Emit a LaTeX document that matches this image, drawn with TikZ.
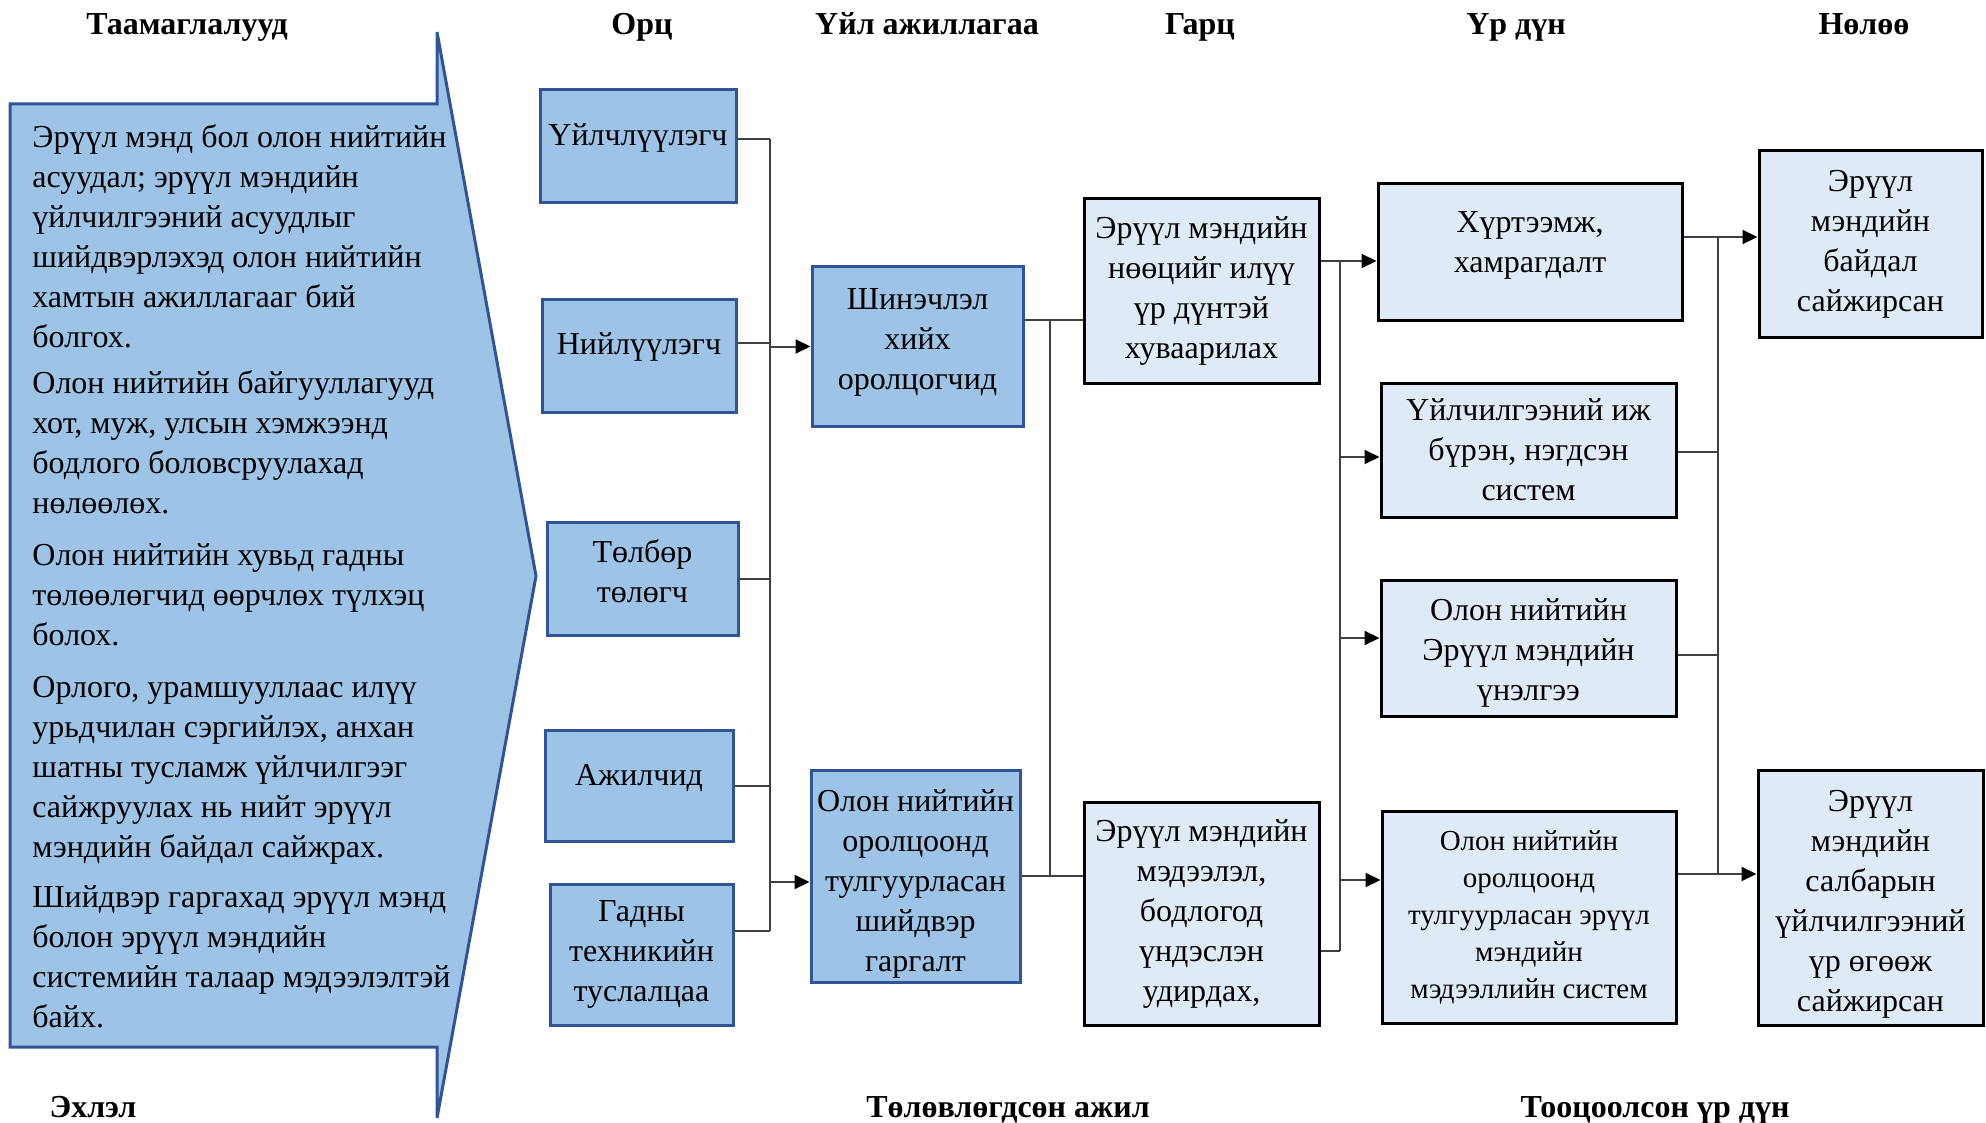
\documentclass[tikz,border=0pt]{standalone}
\usepackage{fontspec}
\setmainfont{Liberation Serif}
\usetikzlibrary{positioning,arrows.meta,calc}

\definecolor{boxblue}{HTML}{9DC3E6}
\definecolor{paleblue}{HTML}{DEEBF7}
\definecolor{edgeblue}{HTML}{2F5597}
\definecolor{linegray}{HTML}{404040}

\begin{document}
\begin{tikzpicture}[x=0.5pt,y=-0.5pt,
  inbox/.style={draw=edgeblue,fill=boxblue,line width=1.5pt,align=center,inner sep=1pt,font=\fontsize{16}{20}\selectfont},
  outbox/.style={draw=black,fill=paleblue,line width=1.5pt,align=center,inner sep=1pt,font=\fontsize{16}{20}\selectfont},
  hdr/.style={anchor=base,font=\fontsize{16}{19}\selectfont\bfseries},
  link/.style={draw=linegray,line width=1pt},
  arr/.style={link,-{Triangle[length=7.5pt,width=7pt,black]}}]
  \useasboundingbox (0,0) rectangle (1986,1123);

  % headings
  \node[hdr] (hhyp) at (187,35) {Таамаглалууд};
  \node[hdr] (hin) at (642,35) {Орц};
  \node[hdr] (hact) at (927,35) {Үйл ажиллагаа};
  \node[hdr] (hout) at (1200,35) {Гарц};
  \node[hdr] (hres) at (1516,35) {Үр дүн};
  \node[hdr] (himp) at (1864,35) {Нөлөө};
  \node[hdr] (fstart) at (93,1117) {Эхлэл};
  \node[hdr] (fplan) at (1008,1117) {Төлөвлөгдсөн ажил};
  \node[hdr] (fcalc) at (1655,1117) {Тооцоолсон үр дүн};

  % assumptions
  \draw[draw=edgeblue,fill=boxblue,line width=1.5pt] (10,104) -- (437,104) -- (437,32) -- (536,576)
    -- (437,1118) -- (437,1047) -- (10,1047) -- cycle;
  \node[anchor=north west,inner sep=0pt,align=left,font=\fontsize{16}{20}\selectfont] (hyp) at (32,124) {%
    Эрүүл мэнд бол олон нийтийн\\ асуудал; эрүүл мэндийн\\ үйлчилгээний асуудлыг\\
    шийдвэрлэхэд олон нийтийн\\ хамтын ажиллагааг бий\\ болгох.\\[3pt]
    Олон нийтийн байгууллагууд\\ хот, муж, улсын хэмжээнд\\ бодлого боловсруулахад\\ нөлөөлөх.\\[6pt]
    Олон нийтийн хувьд гадны\\ төлөөлөгчид өөрчлөх түлхэц\\ болох.\\[6pt]
    Орлого, урамшууллаас илүү\\ урьдчилан сэргийлэх, анхан\\ шатны тусламж үйлчилгээг\\
    сайжруулах нь нийт эрүүл\\ мэндийн байдал сайжрах.\\[5pt]
    Шийдвэр гаргахад эрүүл мэнд\\ болон эрүүл мэндийн\\ системийн талаар мэдээлэлтэй\\ байх.};

  % inputs
  \node[inbox,minimum width=98pt,minimum height=56.5pt,text depth=11.5pt] (cli) at (638,146.5) {Үйлчлүүлэгч};
  \node[inbox,minimum width=97pt,minimum height=56pt,text depth=12pt] (sup) at (639,356) {Нийлүүлэгч};
  \node[inbox,minimum width=95.5pt,minimum height=56.5pt,text depth=7pt] (pay) at (642.5,578.5) {Төлбөр\\ төлөгч};
  \node[inbox,minimum width=94pt,minimum height=55.5pt,text depth=10.8pt] (wrk) at (639,785.5) {Ажилчид};
  \node[inbox,minimum width=91.5pt,minimum height=70.5pt] (ext) at (641.5,954.5) {Гадны\\ техникийн\\ туслалцаа};

  % activities
  \node[inbox,minimum width=105.5pt,minimum height=79.5pt,text depth=7.5pt] (inno) at (917.5,346.5) {Шинэчлэл\\ хийх\\ оролцогчид};
  \node[inbox,minimum width=104.5pt,minimum height=106pt,text height=98.6pt] (dec) at (915.5,876) {Олон нийтийн\\ оролцоонд\\ тулгуурласан\\ шийдвэр\\ гаргалт};

  % outputs
  \node[outbox,minimum width=117.5pt,minimum height=92pt] (rsc) at (1201.5,291) {Эрүүл мэндийн\\ нөөцийг илүү\\ үр дүнтэй\\ хуваарилах};
  \node[outbox,minimum width=117.5pt,minimum height=111.5pt] (info) at (1201.5,913.5) {Эрүүл мэндийн\\ мэдээлэл,\\ бодлогод\\ үндэслэн\\ удирдах,};

  % outcomes
  \node[outbox,minimum width=152pt,minimum height=68pt,text depth=9.9pt] (acc) at (1530,252) {Хүртээмж,\\ хамрагдалт};
  \node[outbox,minimum width=147.5pt,minimum height=67pt] (svc) at (1528.5,450) {Үйлчилгээний иж\\ бүрэн, нэгдсэн\\ систем};
  \node[outbox,minimum width=147.5pt,minimum height=68pt,text height=56pt] (eval) at (1528.5,648) {Олон нийтийн\\ Эрүүл мэндийн\\ үнэлгээ};
  \node[outbox,minimum width=147pt,minimum height=106pt,font=\fontsize{14.5}{18.5}\selectfont] (mis) at (1529,917) {Олон нийтийн\\ оролцоонд\\ тулгуурласан эрүүл\\ мэндийн\\ мэдээллийн систем};

  % impacts
  \node[outbox,minimum width=111.5pt,minimum height=93pt] (imp1) at (1870.5,244) {Эрүүл\\ мэндийн\\ байдал\\ сайжирсан};
  \node[outbox,minimum width=112.5pt,minimum height=127.5pt,text height=117pt] (imp2) at (1870.5,897.5) {Эрүүл\\ мэндийн\\ салбарын\\ үйлчилгээний\\ үр өгөөж\\ сайжирсан};

  % buses
  \coordinate (b1) at (770,0);
  \coordinate (b2) at (1050,0);
  \coordinate (b3) at (1340,0);
  \coordinate (b4) at (1718,0);

  % inputs -> activities
  \draw[link] ([yshift=3.75pt]cli.east) -- ([yshift=3.75pt]cli.east -| b1);
  \draw[link] ([yshift=6.5pt]sup.east) -- ([yshift=6.5pt]sup.east -| b1);
  \draw[link] (pay.east) -- (pay.east -| b1);
  \draw[link] (wrk.east) -- (wrk.east -| b1);
  \draw[link] ([yshift=11.75pt]ext.east) -- ([yshift=11.75pt]ext.east -| b1);
  \draw[link] ([yshift=3.75pt]cli.east -| b1) -- ([yshift=11.75pt]ext.east -| b1);
  \draw[arr] (inno.west -| b1) -- (inno.west);
  \draw[arr] ([yshift=-3pt]dec.west -| b1) -- ([yshift=-3pt]dec.west);

  % activities -> outputs
  \draw[link] ([yshift=13.25pt]inno.east) -- ([yshift=13.25pt]inno.east -| rsc.west);
  \draw[link] (dec.east) -- (dec.east -| info.west);
  \draw[link] ([yshift=13.25pt]inno.east -| b2) -- (dec.east -| b2);

  % outputs -> outcomes
  \draw[arr] ([yshift=15pt]rsc.east) -- ([yshift=15pt]rsc.east -| acc.west);
  \draw[link] ([yshift=-18.75pt]info.east) -- ([yshift=-18.75pt]info.east -| b3);
  \draw[link] ([yshift=15pt]rsc.east -| b3) -- ([yshift=-18.75pt]info.east -| b3);
  \draw[arr] ([yshift=-3.5pt]svc.west -| b3) -- ([yshift=-3.5pt]svc.west);
  \draw[arr] ([yshift=5pt]eval.west -| b3) -- ([yshift=5pt]eval.west);
  \draw[arr] ([yshift=18.5pt]mis.west -| b3) -- ([yshift=18.5pt]mis.west);

  % outcomes -> impacts
  \draw[arr] ([yshift=7.5pt]acc.east) -- ([yshift=7.5pt]acc.east -| imp1.west);
  \draw[link] ([yshift=-1pt]svc.east) -- ([yshift=-1pt]svc.east -| b4);
  \draw[link] ([yshift=-3.5pt]eval.east) -- ([yshift=-3.5pt]eval.east -| b4);
  \draw[arr] ([yshift=21.5pt]mis.east) -- ([yshift=21.5pt]mis.east -| imp2.west);
  \draw[link] ([yshift=7.5pt]acc.east -| b4) -- ([yshift=21.5pt]mis.east -| b4);
\end{tikzpicture}
\end{document}
